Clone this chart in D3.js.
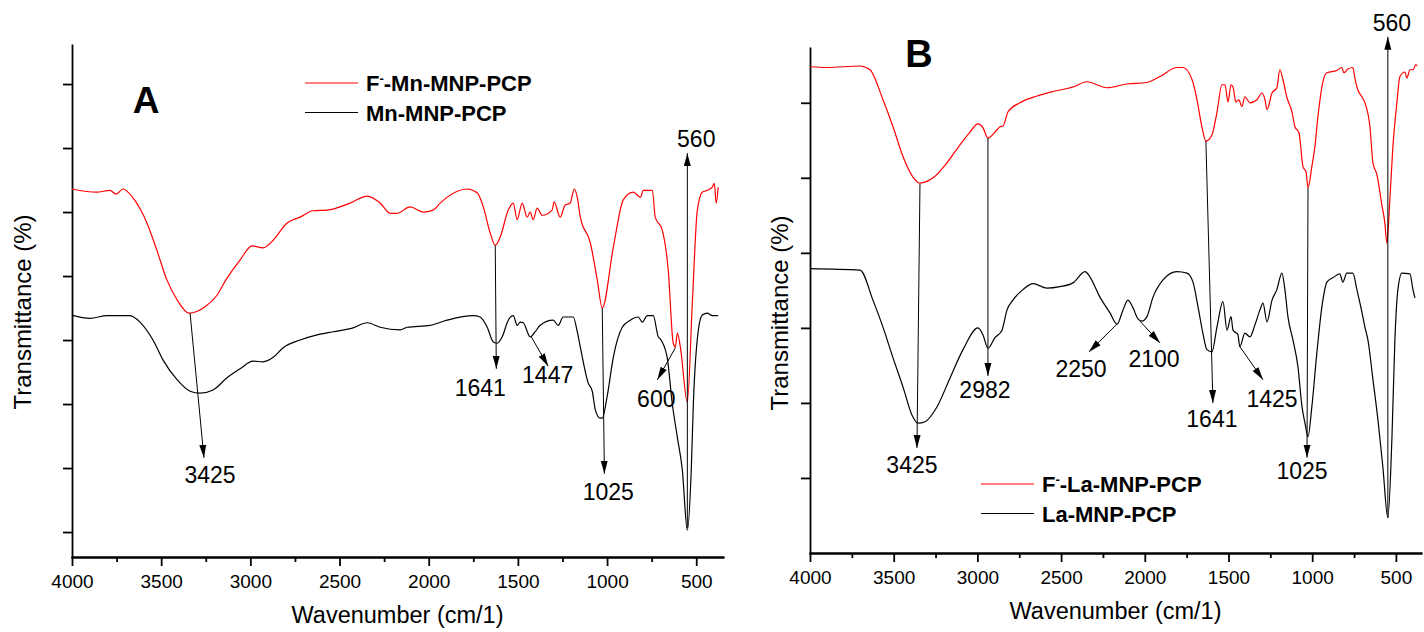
<!DOCTYPE html>
<html>
<head>
<meta charset="utf-8">
<script src="https://cdn.jsdelivr.net/npm/d3@7"></script>
<style>
  body { margin: 0; background: #fff; }
  svg { display: block; font-family: "Liberation Sans", Arial, sans-serif; }
</style>
</head>
<body>
<svg id="chart" width="1424" height="632"></svg>
<script>
// ---------------------------------------------------------------
// Data: FTIR spectra, [wavenumber, transmittance]
// Transmittance is in arbitrary % units (the original axis has no labels)
// ---------------------------------------------------------------

const xMajorTicks = [4000, 3500, 3000, 2500, 2000, 1500, 1000, 500];
const xMinorTicks = [3750, 3250, 2750, 2250, 1750, 1250, 750];
const yTicksA = [10, 20, 30, 40, 50, 60, 70, 80];
const yTicksB = [10, 20, 30, 40, 50, 60];

// Panel A, F- loaded Mn-MNP-PCP (red)
const fMnSpectrum = [
  [4000,63.6],[3862,63.1],[3787,63.4],[3753,62.8],[3714,63.6],[3658,62.2],[3580,58.3],[3525,54.1],
  [3468,49.4],[3411,46.3],[3344,44.2],[3254,45.2],[3187,47.0],[3137,49.4],[3058,52.5],[2990,54.7],
  [2929,54.4],[2872,55.6],[2794,58.3],[2721,59.2],[2648,60.2],[2570,60.3],[2441,61.4],[2345,62.5],
  [2272,61.4],[2216,59.8],[2177,59.8],[2104,60.8],[2031,60.0],[1975,60.3],[1936,61.4],[1784,63.6],
  [1728,63.0],[1694,60.8],[1655,56.7],[1627,54.8],[1599,56.1],[1554,60.3],[1526,61.4],[1504,58.8],
  [1476,61.4],[1448,59.2],[1431,60.0],[1414,58.8],[1392,60.6],[1364,59.5],[1308,60.3],[1297,61.6],
  [1263,59.2],[1235,61.1],[1207,61.4],[1184,63.6],[1167,62.3],[1150,59.2],[1094,55.2],[1055,49.4],
  [1027,45.0],[965,54.5],[909,61.9],[853,63.1],[813,62.3],[797,63.4],[746,63.4],[730,59.2],
  [691,57.2],[657,50.9],[629,39.5],[617,38.9],[606,41.1],[589,38.9],[550,30.3],[522,45.8],
  [494,60.3],[466,63.1],[438,63.4],[410,63.9],[399,64.5],[388,61.4],[377,63.9]
];

// Panel A, Mn-MNP-PCP (black)
const mnSpectrum = [
  [4000,43.9],[3899,43.4],[3804,43.8],[3675,43.8],[3619,42.8],[3546,40.0],[3490,36.9],[3411,33.8],
  [3338,32.0],[3282,31.7],[3209,32.2],[3131,34.1],[3058,35.5],[2985,36.7],[2929,36.6],[2872,37.3],
  [2816,38.8],[2721,40.0],[2626,40.8],[2536,41.3],[2424,41.9],[2345,42.7],[2272,42.0],[2160,41.6],
  [2121,42.0],[1992,42.3],[1897,43.1],[1751,43.8],[1712,43.6],[1672,42.0],[1638,39.7],[1616,39.5],
  [1588,40.5],[1554,43.1],[1526,43.8],[1504,42.3],[1487,42.8],[1470,42.7],[1431,40.5],[1403,41.3],
  [1375,42.3],[1302,43.1],[1274,42.3],[1246,43.6],[1190,43.6],[1167,41.3],[1150,38.9],[1106,33.3],
  [1083,32.0],[1066,29.1],[1038,27.8],[1027,27.8],[1000,31.1],[965,37.3],[915,42.0],[870,43.1],
  [825,43.6],[803,42.8],[775,43.8],[741,43.8],[713,40.5],[702,40.2],[663,37.3],[635,30.2],
  [606,24.8],[578,19.7],[550,10.3],[528,19.7],[516,30.2],[488,41.6],[466,43.9],[438,44.2],
  [410,43.8],[377,43.8]
];

// Panel B, F- loaded La-MNP-PCP (red)
const fLaSpectrum = [
  [4000,64.8],[3900,64.7],[3701,64.9],[3642,64.4],[3564,60.4],[3504,56.8],[3444,52.8],[3385,50.1],
  [3343,49.3],[3265,50.0],[3182,52.0],[3104,54.4],[3044,56.1],[2997,57.2],[2967,56.7],[2937,55.3],
  [2883,56.4],[2865,56.8],[2847,56.9],[2817,58.8],[2746,60.0],[2644,60.9],[2549,61.5],[2429,62.1],
  [2346,62.8],[2226,62.0],[2107,62.5],[1987,62.7],[1909,63.5],[1808,64.7],[1772,64.7],[1718,63.1],
  [1688,60.4],[1659,56.8],[1635,54.9],[1599,55.7],[1569,58.7],[1539,62.4],[1521,62.4],[1503,60.1],
  [1485,62.4],[1473,62.1],[1456,60.1],[1438,60.4],[1420,59.5],[1402,60.8],[1372,60.0],[1330,60.4],
  [1300,61.3],[1282,60.4],[1270,59.1],[1240,61.3],[1211,62.0],[1193,64.4],[1175,63.1],[1151,60.7],
  [1121,58.8],[1103,56.8],[1079,56.0],[1055,51.5],[1037,50.8],[1025,48.7],[1002,51.5],[984,54.1],
  [966,58.1],[936,62.8],[912,64.0],[853,64.3],[823,64.7],[811,64.0],[787,64.5],[757,64.7],
  [745,63.3],[727,61.7],[703,60.8],[685,60.0],[655,56.8],[637,52.0],[613,50.4],[584,46.4],
  [566,44.0],[554,41.3],[536,47.1],[518,54.1],[494,60.0],[476,63.5],[446,64.1],[434,63.3],
  [416,64.4],[398,64.4],[380,65.1],[374,64.9]
];

// Panel B, La-MNP-PCP (black)
const laSpectrum = [
  [4000,37.9],[3701,37.7],[3624,33.7],[3564,30.1],[3504,26.0],[3444,22.1],[3391,18.4],[3355,17.3],
  [3313,17.5],[3241,19.5],[3164,23.3],[3086,27.1],[2997,30.0],[2967,29.1],[2937,27.3],[2895,28.7],
  [2853,29.7],[2823,32.4],[2788,33.7],[2728,35.1],[2668,35.9],[2584,35.3],[2507,35.5],[2429,36.0],
  [2357,37.5],[2328,36.8],[2268,34.1],[2208,32.0],[2166,30.5],[2130,32.4],[2101,33.7],[2071,32.7],
  [2041,31.2],[2017,30.9],[1987,31.5],[1951,34.1],[1891,36.4],[1808,37.5],[1748,37.3],[1712,36.1],
  [1682,32.8],[1653,29.3],[1629,27.1],[1599,26.8],[1569,30.1],[1533,33.5],[1509,29.7],[1485,31.5],
  [1473,29.7],[1444,29.1],[1432,27.5],[1402,29.3],[1372,28.8],[1342,30.4],[1312,32.4],[1294,33.3],
  [1270,30.8],[1240,33.7],[1211,35.1],[1181,37.3],[1163,35.1],[1145,31.5],[1115,28.4],[1085,24.8],
  [1061,19.5],[1043,17.3],[1025,15.5],[1002,19.5],[972,26.7],[942,32.8],[912,36.1],[876,36.7],
  [835,37.2],[817,36.1],[793,37.3],[757,37.3],[733,35.1],[703,32.1],[685,30.1],[667,28.4],
  [637,23.1],[607,17.7],[578,11.5],[548,4.7],[524,15.1],[506,28.4],[488,35.1],[464,37.3],
  [416,37.2],[398,35.1],[386,34.0]
];

// Peak annotations: arrow from -> to, label placed at "at" (all in data units)
const peaksA = [
  { label: "3425", from: [3338, 44.2], to: [3260, 21.6], at: [3226, 17.7] },
  { label: "1641", from: [1627, 54.8], to: [1621, 35.5], at: [1711, 31.3] },
  { label: "1447", from: [1425, 40.5], to: [1330, 35.9], at: [1333, 33.3] },
  { label: "1025", from: [1027, 45.0], to: [1015, 19.1], at: [993, 15.0] },
  { label: "600",  from: [617, 38.8],  to: [718, 33.8],  at: [724, 29.5] },
  { label: "560",  from: [550, 10.6],  to: [550, 69.2],  at: [500, 70.2] }
];
const peaksB = [
  { label: "3425", from: [3343, 49.2], to: [3361, 14.0], at: [3391, 10.7] },
  { label: "2982", from: [2937, 55.3], to: [2937, 23.6], at: [2955, 20.7] },
  { label: "2250", from: [2166, 30.5], to: [2334, 26.8], at: [2381, 23.5] },
  { label: "2100", from: [2029, 30.9], to: [1909, 28.0], at: [1945, 24.8] },
  { label: "1641", from: [1635, 54.9], to: [1593, 20.0], at: [1599, 16.8] },
  { label: "1425", from: [1432, 27.5], to: [1294, 23.1], at: [1240, 19.5] },
  { label: "1025", from: [1025, 48.7], to: [1031, 12.7], at: [1061, 9.9] },
  { label: "560",  from: [548, 4.7],   to: [548, 68.8],  at: [524, 69.6] }
];

// ---------------------------------------------------------------

const svg = d3.select("#chart");

// filled arrow head used by every peak marker
svg.append("defs").append("marker")
    .attr("id", "arrow")
    .attr("viewBox", "0 -4 13 8")
    .attr("refX", 13)
    .attr("refY", 0)
    .attr("markerWidth", 13)
    .attr("markerHeight", 8)
    .attr("markerUnits", "userSpaceOnUse")
    .attr("orient", "auto")
  .append("path")
    .attr("d", "M0,-3.5L13,0L0,3.5Z")
    .attr("fill", "#000");

function drawPanel(p) {
    let xScale = d3.scaleLinear().domain([4000, 350]).range([p.left, p.right]);
    let yScale = d3.scaleLinear().domain(p.yDomain).range([p.bottom, p.top]);

    let g = svg.append("g");

    // minor x ticks
    g.append("g")
        .attr("transform", "translate(0," + p.bottom + ")")
        .call(d3.axisBottom(xScale).tickValues(xMinorTicks).tickFormat("").tickSize(5).tickSizeOuter(0));

    // major x ticks + labels
    let xAxis = g.append("g")
        .attr("transform", "translate(0," + p.bottom + ")")
        .call(d3.axisBottom(xScale).tickValues(xMajorTicks).tickFormat(d3.format("d"))
            .tickSize(9).tickSizeOuter(0).tickPadding(9));
    xAxis.selectAll("text").attr("font-size", 19).attr("fill", "#000");

    // y axis, ticks only
    g.append("g")
        .attr("transform", "translate(" + p.left + ",0)")
        .call(d3.axisLeft(yScale).tickValues(p.yTicks).tickFormat("").tickSize(9).tickSizeOuter(0));

    g.selectAll(".domain, .tick line").attr("stroke", "#000").attr("stroke-width", 1.8);
    g.selectAll(".domain").attr("stroke-linecap", "square");

    // axis titles
    g.append("text")
        .attr("x", (p.left + p.right) / 2)
        .attr("y", p.bottom + 66)
        .attr("text-anchor", "middle")
        .attr("font-size", 23.5)
        .text("Wavenumber (cm/1)");

    g.append("text")
        .attr("transform", "translate(" + p.yTitleX + "," + p.yTitleY + ") rotate(-90)")
        .attr("text-anchor", "middle")
        .attr("font-size", 24)
        .text("Transmittance (%)");

    // spectra
    let line = d3.line()
        .curve(d3.curveMonotoneX)
        .x(d => xScale(d[0]))
        .y(d => yScale(d[1]));

    p.series.forEach(s => {
        g.append("path")
            .datum(s.values)
            .attr("d", line)
            .attr("fill", "none")
            .attr("stroke", s.color)
            .attr("stroke-width", 1.2)
            .attr("stroke-linejoin", "round");
    });

    // peak markers
    let peaks = g.append("g").selectAll("g").data(p.peaks).enter().append("g");
    peaks.append("line")
        .attr("x1", d => xScale(d.from[0])).attr("y1", d => yScale(d.from[1]))
        .attr("x2", d => xScale(d.to[0])).attr("y2", d => yScale(d.to[1]))
        .attr("stroke", "#000").attr("stroke-width", 1)
        .attr("marker-end", "url(#arrow)");
    peaks.append("text")
        .attr("x", d => xScale(d.at[0])).attr("y", d => yScale(d.at[1]))
        .attr("text-anchor", "middle")
        .attr("font-size", 23)
        .text(d => d.label);

    // legend
    let leg = g.append("g").selectAll("g").data(p.series).enter().append("g")
        .attr("transform", (d, i) => "translate(" + p.legendX + "," + (p.legendY + i * 29.5) + ")");
    leg.append("line").attr("x1", 0).attr("x2", 53).attr("stroke", d => d.color).attr("stroke-width", 1.2);
    let lt = leg.append("text").attr("x", 61).attr("y", 8).attr("font-size", 22).attr("font-weight", "bold");
    lt.each(function (d) {
        let t = d3.select(this);
        if (d.fluoride) {
            t.append("tspan").text("F");
            t.append("tspan").attr("font-size", 13).attr("dy", -8).text("-");
            t.append("tspan").attr("dy", 8).text(d.name);
        } else {
            t.text(d.name);
        }
    });

    // panel letter
    g.append("text")
        .attr("x", p.letterX).attr("y", p.letterY)
        .attr("text-anchor", "middle")
        .attr("font-size", p.letterSize)
        .attr("font-weight", "bold")
        .text(p.letter);
}

drawPanel({
    left: 72, right: 723, top: 45, bottom: 557,
    yDomain: [6.1, 86.1], yTicks: yTicksA,
    yTitleX: 31, yTitleY: 312,
    series: [
        { name: "-Mn-MNP-PCP", fluoride: true, color: "#ff0000", values: fMnSpectrum },
        { name: "Mn-MNP-PCP", fluoride: false, color: "#000000", values: mnSpectrum }
    ],
    peaks: peaksA,
    legendX: 305, legendY: 83,
    letter: "A", letterX: 146, letterY: 113, letterSize: 37
});

drawPanel({
    left: 810, right: 1421, top: 48, bottom: 553,
    yDomain: [0, 67.3], yTicks: yTicksB,
    yTitleX: 788, yTitleY: 313,
    series: [
        { name: "-La-MNP-PCP", fluoride: true, color: "#ff0000", values: fLaSpectrum },
        { name: "La-MNP-PCP", fluoride: false, color: "#000000", values: laSpectrum }
    ],
    peaks: peaksB,
    legendX: 981, legendY: 484,
    letter: "B", letterX: 919, letterY: 67, letterSize: 38
});
</script>
</body>
</html>
